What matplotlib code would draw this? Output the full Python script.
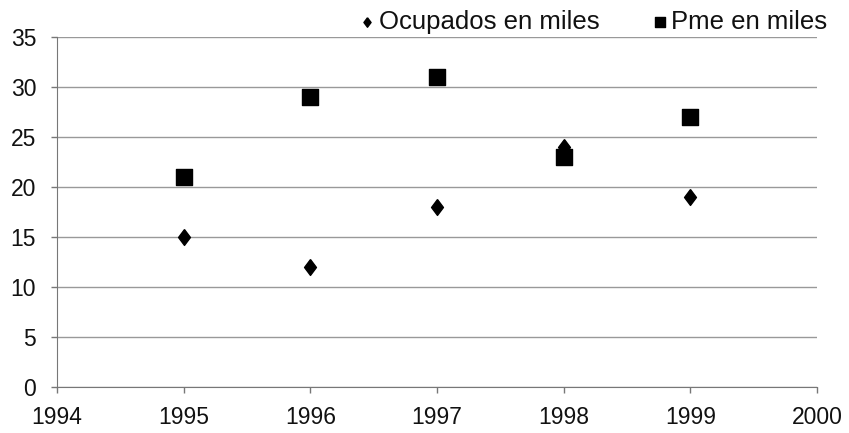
import matplotlib
matplotlib.use("Agg")
import matplotlib.pyplot as plt

years = [1995, 1996, 1997, 1998, 1999]
ocupados = [15, 12, 18, 24, 19]
pme = [21, 29, 31, 23, 27]
xticks = [1994, 1995, 1996, 1997, 1998, 1999, 2000]
yticks = [0, 5, 10, 15, 20, 25, 30, 35]

plt.rcParams['font.family'] = ['Liberation Sans', 'DejaVu Sans']

fig = plt.figure(figsize=(8.49, 4.33), dpi=100)
ax = fig.add_axes([57/849, 1-387/433, (817-57)/849, (387-37)/433])

diamond = [(0, 1), (0.75, 0), (0, -1), (-0.75, 0), (0, 1)]
ax.scatter(years, ocupados, marker=diamond, s=130, color='black', label='Ocupados en miles', zorder=3)
ax.scatter(years, pme, marker='s', s=120, color='black', label='Pme en miles', zorder=3)

ax.set_xlim(1994, 2000)
ax.set_ylim(0, 35)
ax.set_xticks(xticks)
ax.set_yticks(yticks)
ax.tick_params(labelsize=16.5, colors='#777777', labelcolor='#111111', length=4, width=1)
ax.tick_params(axis='x', pad=10)
ax.tick_params(axis='y', pad=11)
ax.grid(axis='y', color='#999999', linewidth=1)
ax.set_axisbelow(True)
for s in ['top', 'right']:
    ax.spines[s].set_visible(False)
ax.spines['left'].set_color('#777777')
ax.spines['bottom'].set_color('#777777')

leg = fig.legend(loc='center left', bbox_to_anchor=(358/849, 1-22/433), ncol=2, frameon=False,
                 fontsize=18.5, handletextpad=0.1, columnspacing=2.0, markerscale=0.6,
                 borderaxespad=0, borderpad=0, handlelength=0.7)
for t in leg.get_texts():
    t.set_color('#111111')

fig.savefig('out.png', dpi=100)
